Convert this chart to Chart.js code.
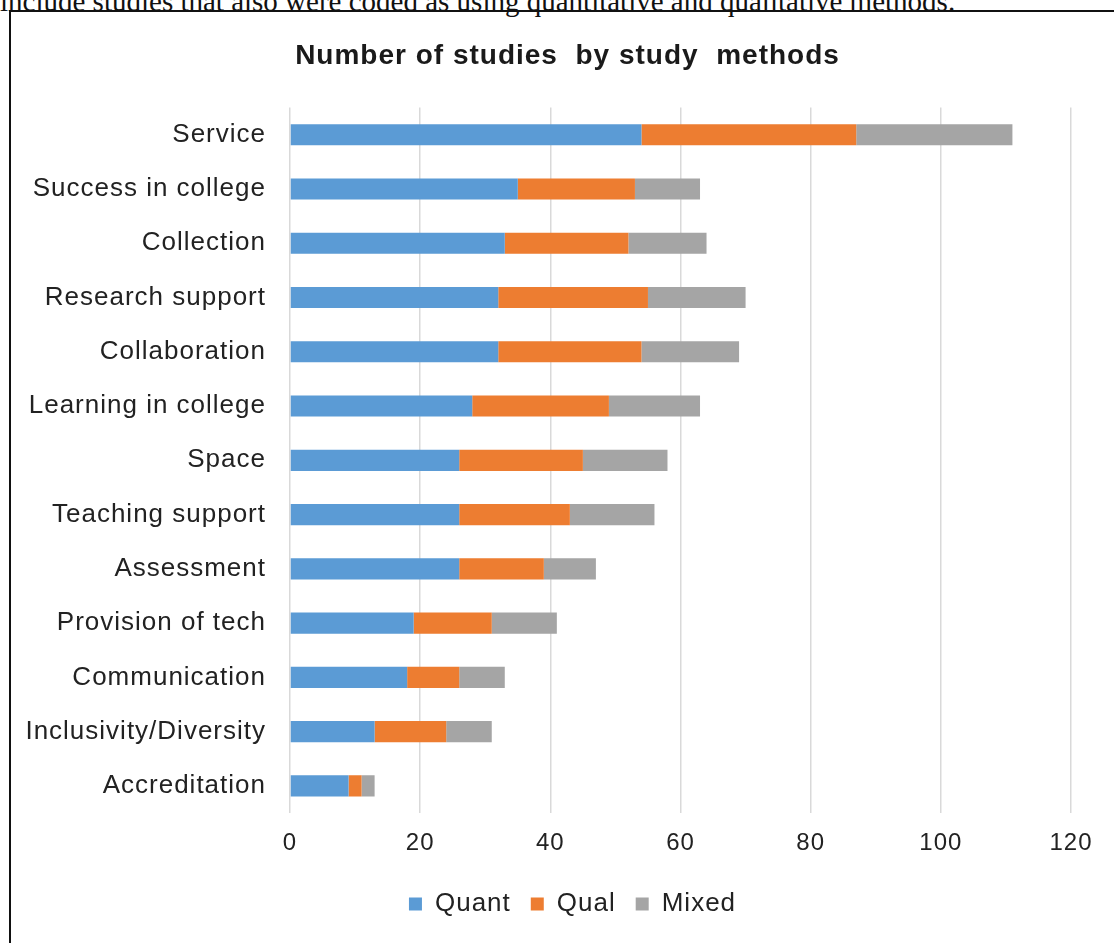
<!DOCTYPE html>
<html>
<head>
<meta charset="utf-8">
<script src="https://cdn.jsdelivr.net/npm/chart.js@4/dist/chart.umd.min.js"></script>
<style>
  html, body { margin: 0; padding: 0; background: #fff; overflow: hidden; }
  body { width: 1114px; height: 943px; position: relative; }
  #note {
    position: absolute; left: 0; top: -13px; white-space: nowrap;
    font-family: "Liberation Serif", "DejaVu Serif", serif; font-size: 29px; line-height: 29px; color: #111;
  }
  #frame {
    position: absolute; left: 9px; top: 10px; width: 1200px; height: 1000px;
    border-left: 2px solid #111; border-top: 2px solid #111;
  }
  #chart { position: absolute; left: 0; top: 0; }
</style>
</head>
<body>
<div id="note">include studies that also were coded as using quantitative and qualitative methods.</div>
<div id="frame"></div>
<canvas id="chart" width="1114" height="943"></canvas>
<script>
// Study topics, top to bottom
const categories = [
  'Service', 'Success in college', 'Collection', 'Research support', 'Collaboration',
  'Learning in college', 'Space', 'Teaching support', 'Assessment', 'Provision of tech',
  'Communication', 'Inclusivity/Diversity', 'Accreditation'
];
// Number of studies per method
const quant = [54, 35, 33, 32, 32, 28, 26, 26, 26, 19, 18, 13, 9];
const qual  = [33, 18, 19, 23, 22, 21, 19, 17, 13, 12,  8, 11, 2];
const mixed = [24, 10, 12, 15, 15, 14, 13, 13,  8, 10,  7,  7, 2];
const seriesNames = ['Quant', 'Qual', 'Mixed'];
const xTicks = [0, 20, 40, 60, 80, 100, 120];

const FONT = '"Liberation Sans", Arial, sans-serif';

// Slightly open letter spacing for all canvas text
const spacing = {
  id: 'spacing',
  beforeUpdate(c) { c.ctx.letterSpacing = '1px'; },
  beforeLayout(c) { c.ctx.letterSpacing = '1px'; },
  beforeDraw(c) { c.ctx.letterSpacing = '1px'; }
};

// Centre the title and legend over the whole chart block rather than the canvas
const centring = {
  id: 'centring',
  afterLayout(c) {
    if (c.titleBlock) c.titleBlock.left += 64;
    if (c.legend) c.legend.left += 74;
  }
};

new Chart(document.getElementById('chart'), {
  type: 'bar',
  data: {
    labels: categories,
    datasets: [
      { label: seriesNames[0], data: quant, backgroundColor: '#5B9BD5' },
      { label: seriesNames[1], data: qual,  backgroundColor: '#ED7D31' },
      { label: seriesNames[2], data: mixed, backgroundColor: '#A5A5A5' }
    ]
  },
  options: {
    indexAxis: 'y',
    responsive: false,
    animation: false,
    devicePixelRatio: 1,
    layout: { padding: { left: 0, right: 43, top: 0, bottom: 16 } },
    datasets: { bar: { barPercentage: 0.39, categoryPercentage: 1 } },
    scales: {
      x: {
        stacked: true,
        min: 0, max: 120,
        afterBuildTicks(s) { s.ticks = xTicks.map(v => ({ value: v })); },
        afterFit(s) { s.height = 58; },
        grid: { color: '#d9d9d9', lineWidth: 1.5, drawTicks: false },
        border: { display: false },
        ticks: { padding: 16, color: '#222', font: { family: FONT, size: 24 } }
      },
      y: {
        stacked: true,
        afterFit(s) { s.width = 290; },
        grid: { display: false, drawTicks: false },
        border: { display: false },
        ticks: { padding: 24, color: '#222', font: { family: FONT, size: 26 }, autoSkip: false }
      }
    },
    plugins: {
      title: {
        display: true,
        text: 'Number of studies  by study  methods',
        color: '#1a1a1a',
        font: { family: FONT, size: 28, weight: 'bold', lineHeight: 1.2 },
        padding: { top: 39, bottom: 35 }
      },
      legend: {
        position: 'bottom',
        labels: {
          boxWidth: 13, boxHeight: 13, padding: 20,
          color: '#222', font: { family: FONT, size: 26 }
        }
      },
      tooltip: { enabled: false }
    }
  },
  plugins: [spacing, centring]
});
</script>
</body>
</html>
